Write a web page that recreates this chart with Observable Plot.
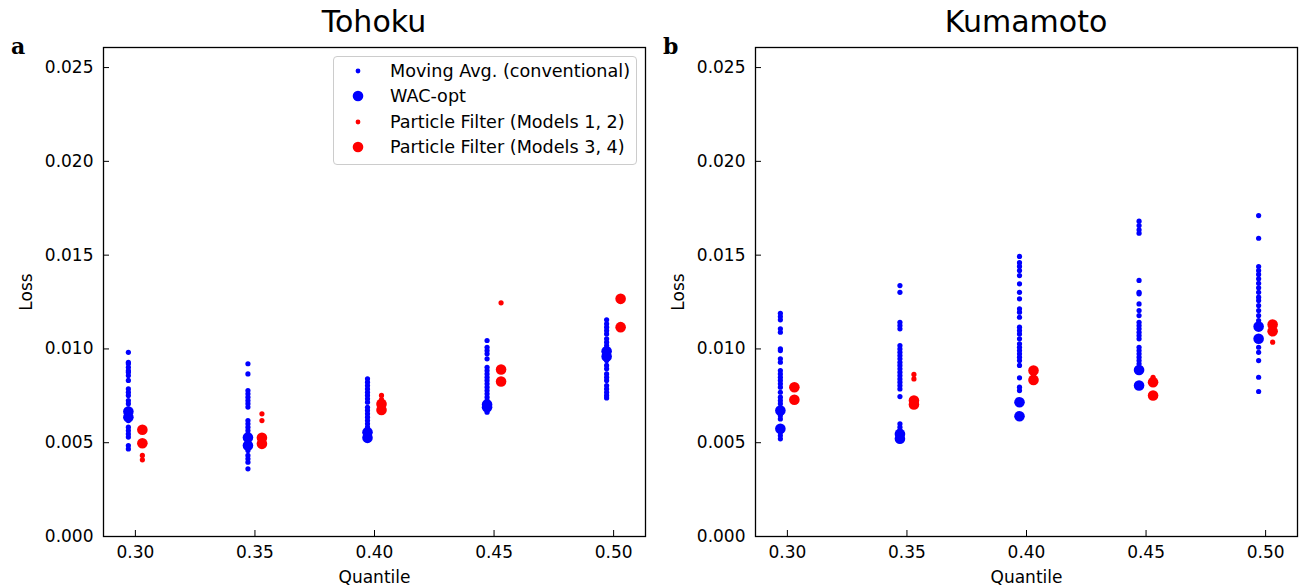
<!DOCTYPE html>
<html><head><meta charset="utf-8">
<script src="https://cdn.jsdelivr.net/npm/d3@7"></script>
<script src="https://cdn.jsdelivr.net/npm/@observablehq/plot@0.6"></script>
<style>
body{margin:0;background:#fff;font-family:"DejaVu Sans",sans-serif;}
#wrap{position:relative;width:1306px;height:587px;overflow:hidden;background:#fff;}
.panel{position:absolute;top:0;}
.title{position:absolute;top:0;height:40px;font-size:30px;line-height:40px;text-align:center;color:#000;}
.letter{position:absolute;font-family:"DejaVu Serif",serif;font-weight:bold;font-size:22px;line-height:22px;color:#000;}
.legend{position:absolute;left:333px;top:56px;width:302px;height:107px;border:1.5px solid #cccccc;border-radius:4px;background:rgba(255,255,255,0.8);font-size:17.6px;color:#000;}
.row{position:absolute;left:0;height:25px;line-height:25px;white-space:nowrap;}
.row svg{position:absolute;left:14px;top:2px;}
.row span{position:absolute;left:56px;}
</style></head><body><div id="wrap"></div>
<script>
const quantiles = [0.30, 0.35, 0.40, 0.45, 0.50];
const yTicks = [0, 0.005, 0.010, 0.015, 0.020, 0.025];
const seriesNames = ["Moving Avg. (conventional)", "WAC-opt", "Particle Filter (Models 1, 2)", "Particle Filter (Models 3, 4)"];
const panelTitles = ["Tohoku", "Kumamoto"];
const panelLetters = ["a", "b"];

// Tohoku
const tohokuMovingAvg = [
  [0.00982,0.00929,0.00921,0.00902,0.00885,0.00876,0.00858,0.00832,0.00787,0.00769,0.00752,0.00725,0.00708,0.00681,0.00663,0.00645,0.00636,0.00618,0.00583,0.00565,0.00547,0.00530,0.00485,0.00467],
  [0.00921,0.00867,0.00778,0.00761,0.00743,0.00725,0.00708,0.00690,0.00618,0.00601,0.00583,0.00565,0.00547,0.00530,0.00512,0.00485,0.00458,0.00432,0.00414,0.00396,0.00361],
  [0.00841,0.00823,0.00805,0.00787,0.00769,0.00752,0.00734,0.00716,0.00689,0.00672,0.00654,0.00636,0.00618,0.00601,0.00583,0.00560,0.00540],
  [0.01045,0.01009,0.00991,0.00974,0.00947,0.00902,0.00885,0.00867,0.00849,0.00832,0.00814,0.00796,0.00778,0.00761,0.00743,0.00725,0.00708,0.00681,0.00663],
  [0.01155,0.01134,0.01116,0.01098,0.01080,0.01054,0.01036,0.01018,0.00938,0.00912,0.00894,0.00867,0.00849,0.00832,0.00805,0.00787,0.00769,0.00752,0.00739]
];
const tohokuWAC = [[0.00666,0.00636],[0.00528,0.00485],[0.00556,0.00526],[0.00704,0.00689],[0.00988,0.00960]];
const tohokuPF12 = [[0.00432,0.00409],[0.00654,0.00618],[0.00752,0.00730],[0.01246,0.00880],[0.01265,0.01115]];
const tohokuPF34 = [[0.00569,0.00497],[0.00526,0.00494],[0.00707,0.00675],[0.00890,0.00826],[0.01267,0.01116]];

// Kumamoto
const kumamotoMovingAvg = [
  [0.01190,0.01173,0.01155,0.01107,0.01089,0.01001,0.00991,0.00947,0.00929,0.00885,0.00867,0.00849,0.00832,0.00814,0.00796,0.00769,0.00743,0.00725,0.00708,0.00645,0.00627,0.00556,0.00538,0.00521],
  [0.01338,0.01302,0.01142,0.01125,0.01107,0.01018,0.01000,0.00982,0.00965,0.00947,0.00929,0.00912,0.00894,0.00876,0.00858,0.00840,0.00823,0.00805,0.00787,0.00746,0.00601,0.00583,0.00565],
  [0.01493,0.01460,0.01440,0.01418,0.01391,0.01347,0.01302,0.01267,0.01214,0.01196,0.01169,0.01116,0.01098,0.01080,0.01054,0.01027,0.01009,0.00991,0.00974,0.00956,0.00938,0.00912,0.00846,0.00796,0.00778],
  [0.01681,0.01658,0.01635,0.01617,0.01365,0.01302,0.01294,0.01240,0.01205,0.01178,0.01142,0.01125,0.01107,0.01089,0.01071,0.01054,0.01009,0.00991,0.00974,0.00956,0.00938,0.00921],
  [0.01711,0.01590,0.01439,0.01418,0.01397,0.01374,0.01350,0.01326,0.01302,0.01276,0.01258,0.01231,0.01205,0.01178,0.01151,0.01009,0.00982,0.00938,0.00849,0.00773]
];
const kumamotoWAC = [[0.00672,0.00574],[0.00547,0.00521],[0.00716,0.00641],[0.00888,0.00805],[0.01119,0.01054]];
const kumamotoPF12 = [[0.00790,0.00735],[0.00864,0.00840],[0.00875,0.00860],[0.00849,0.00830],[0.01120,0.01036]];
const kumamotoPF34 = [[0.00796,0.00729],[0.00725,0.00704],[0.00885,0.00835],[0.00823,0.00752],[0.01130,0.01094]];

function rows(values) {
  return quantiles.flatMap((q, i) => values[i].map(v => ({q, v})));
}

const BLUE = "#0000ff", RED = "#ff0000";
const SMALL = 2.6, LARGE = 5.3;

function panel(ma, wac, pf12, pf34) {
  return Plot.plot({
    width: 650, height: 587,
    marginLeft: 103, marginRight: 5, marginTop: 47, marginBottom: 51,
    style: {fontFamily: '"DejaVu Sans", sans-serif', fontSize: "17px", color: "#000", background: "transparent", overflow: "visible"},
    x: {domain: [0.28667, 0.51333], ticks: quantiles, tickFormat: ".2f", tickSize: -6, tickPadding: 15,
        label: "Quantile", labelAnchor: "center", labelOffset: 46, labelArrow: "none"},
    y: {domain: [0, 0.02607], ticks: yTicks, tickFormat: ".3f", tickSize: -6, tickPadding: 16,
        label: "Loss", labelAnchor: "center", labelOffset: 84, labelArrow: "none"},
    marks: [
      Plot.dot(rows(ma), {x: "q", y: "v", r: SMALL, fill: BLUE, dx: -7}),
      Plot.dot(rows(wac), {x: "q", y: "v", r: LARGE, fill: BLUE, dx: -7}),
      Plot.dot(rows(pf12), {x: "q", y: "v", r: SMALL, fill: RED, dx: 7}),
      Plot.dot(rows(pf34), {x: "q", y: "v", r: LARGE, fill: RED, dx: 7}),
      Plot.frame({stroke: "#000", strokeWidth: 1.3})
    ]
  });
}

const wrap = document.getElementById("wrap");
const data = [
  [tohokuMovingAvg, tohokuWAC, tohokuPF12, tohokuPF34],
  [kumamotoMovingAvg, kumamotoWAC, kumamotoPF12, kumamotoPF34]
];
const offsets = [0, 652];
data.forEach((d, i) => {
  const svg = panel(...d);
  svg.classList.add("panel");
  svg.style.left = offsets[i] + "px";
  svg.style.position = "absolute";
  svg.style.top = "0px";
  wrap.appendChild(svg);
  const t = document.createElement("div");
  t.className = "title";
  t.style.left = (offsets[i] + 103) + "px";
  t.style.width = "542px";
  t.style.top = "2px";
  t.textContent = panelTitles[i];
  wrap.appendChild(t);
  const l = document.createElement("div");
  l.className = "letter";
  l.style.left = (offsets[i] + 11) + "px";
  l.style.top = "35px";
  l.textContent = panelLetters[i];
  wrap.appendChild(l);
});

// legend
const legend = document.createElement("div");
legend.className = "legend";
const markers = [[BLUE, 2.4], [BLUE, 5.3], [RED, 2.4], [RED, 5.3]];
seriesNames.forEach((name, i) => {
  const row = document.createElement("div");
  row.className = "row";
  row.style.top = (2 + i * 25.3) + "px";
  row.innerHTML = `<svg width="20" height="20"><circle cx="10" cy="10" r="${markers[i][1]}" fill="${markers[i][0]}"/></svg><span></span>`;
  row.querySelector("span").textContent = name;
  legend.appendChild(row);
});
wrap.appendChild(legend);
</script>
</body></html>
